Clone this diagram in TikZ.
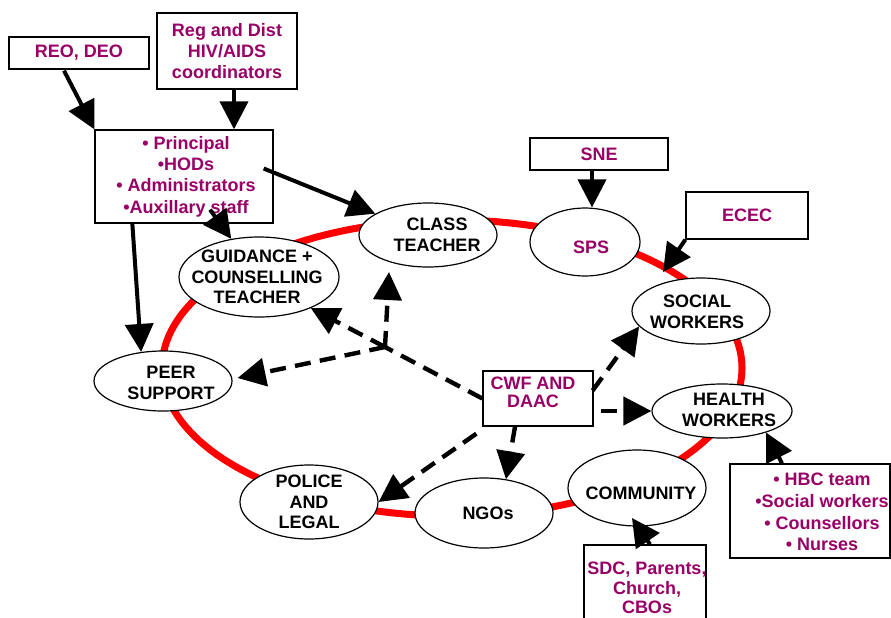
\documentclass[tikz,border=0pt]{standalone}
\usepackage{fontspec}
\setmainfont{Liberation Sans}
\usetikzlibrary{arrows.meta,calc,shapes.geometric}
\definecolor{plum}{HTML}{990066}
\begin{document}
\begin{tikzpicture}[x=0.75pt,y=-0.75pt,
  oval/.style={draw, ellipse, line width=0.9pt, fill=white, inner sep=0pt},
  box/.style={draw, rectangle, line width=1pt, fill=white, inner sep=0pt},
  txt/.style={font=\bfseries\fontsize{13.5pt}{15.5pt}\selectfont, align=center, inner sep=0pt},
  ptxt/.style={txt, text=plum},
  tip/.style={-{Triangle[length=21pt,width=21pt]}},
  link/.style={tip, line width=3pt},
  dashline/.style={line width=3.3pt, dash pattern=on 12pt off 7pt},
  dlink/.style={tip, dashline}]

\useasboundingbox (0,0) rectangle (891,617);
\clip (0,0) rectangle (891,617);

% the red support ring
\draw[red, line width=5.25pt] (452,368) ellipse [x radius=217.5pt, y radius=111pt];

% partners on the ring
\node[oval, minimum width=103.5pt, minimum height=48pt,
  label={[txt, xshift=6.75pt]center:CLASS\\TEACHER}] (class) at (428,235) {};
\node[oval, minimum width=120pt, minimum height=60pt,
  label={[txt, xshift=-1.5pt]center:GUIDANCE +\\COUNSELLING\\TEACHER}] (guid) at (259,277) {};
\node[oval, minimum width=82.5pt, minimum height=51pt,
  label={[ptxt, xshift=4.5pt, yshift=-3.75pt]center:SPS}] (sps) at (585,242) {};
\node[oval, minimum width=103.5pt, minimum height=49.5pt,
  label={[txt, xshift=-3pt, yshift=-0.75pt]center:SOCIAL\\WORKERS}] (soc) at (701,311) {};
\node[oval, minimum width=105pt, minimum height=40.5pt,
  label={[txt, xshift=5.25pt, yshift=0.75pt]center:HEALTH\\WORKERS}] (health) at (722,411) {};
\node[oval, minimum width=103.5pt, minimum height=57pt,
  label={[txt, xshift=3pt, yshift=-3.75pt]center:COMMUNITY}] (comm) at (637,488) {};
\node[oval, minimum width=103.5pt, minimum height=52.5pt,
  label={[txt, xshift=3pt]center:NGOs}] (ngo) at (484,513) {};
\node[oval, minimum width=103.5pt, minimum height=55.5pt,
  label={[txt]center:POLICE\\AND\\LEGAL}] (police) at (309,502) {};
\node[oval, minimum width=103.5pt, minimum height=45pt,
  label={[txt, xshift=6pt, yshift=-1.5pt]center:PEER\\SUPPORT}] (peer) at (163,381) {};

% boxes
\node[box, minimum width=105pt, minimum height=24pt,
  label={[ptxt]center:{REO, DEO}}] (reo) at (79,53) {};
\node[box, minimum width=105pt, minimum height=57pt,
  label={[ptxt]center:Reg and Dist\\HIV/AIDS\\coordinators}] (reg) at (227,51) {};
\node[box, minimum width=133.5pt, minimum height=69.75pt,
  label={[ptxt, font=\bfseries\fontsize{13.5pt}{16pt}\selectfont, xshift=1.5pt]center:%
  • Principal\\•HODs\\• Administrators\\•Auxillary staff}] (princ) at (184,176.5) {};
\node[box, minimum width=103.5pt, minimum height=24pt,
  label={[ptxt]center:SNE}] (sne) at (599,154) {};
\node[box, minimum width=91.5pt, minimum height=35.25pt,
  label={[ptxt]center:ECEC}] (ecec) at (747,215.5) {};
\node[box, minimum width=82.5pt, minimum height=41.25pt,
  label={[ptxt, font=\bfseries\fontsize{13.5pt}{13.3pt}\selectfont, xshift=-3.75pt, yshift=4.5pt]center:CWF AND\\DAAC}] (cwf) at (538,398.5) {};
\node[box, minimum width=120pt, minimum height=70.5pt,
  label={[ptxt, font=\bfseries\fontsize{13.5pt}{16.2pt}\selectfont, xshift=9pt, yshift=-0.75pt]center:%
  • HBC team\\•Social workers\\• Counsellors\\• Nurses}] (hbc) at (810,511) {};
\node[box, minimum width=91.5pt, minimum height=71.25pt,
  label={[ptxt, font=\bfseries\fontsize{13.5pt}{14.7pt}\selectfont, xshift=1.5pt, yshift=3.4pt]center:%
  {SDC, Parents,\\Church,\\CBOs}}] (sdc) at (645,592.5) {};

% solid links
\draw[link] ($(reo.south)+(-15,1)$) -- (princ.north west);
\draw[link] ($(reg.south)+(7,0)$) -- ($(princ.north)+(50,0)$);
\draw[link] ($(princ.east)+(-10,-8)$) -- (class);
\draw[link] ($(princ.south)+(26,-14)$) -- (guid);
\draw[link] ($(princ.south west)+(38,0)$) -- (peer.127);
\draw[link] ($(sne.south)+(-7,0)$) -- ($(sps.north)+(7,0)$);
\draw[link] (ecec.south west) -- ($(soc)+(-38,-39)$);
\draw[link] ($(hbc.north)+(-28,0)$) -- (health.-26);
\draw[link] ($(sdc.north)+(5,0)$) -- ($(comm)+(-5,30)$);

% dashed links from CWF and DAAC
\coordinate (j) at (385,347);
\draw[dashline] (cwf.west) -- (j);
\draw[dlink] (j) -- (guid.-31);
\draw[dlink] (j) -- ($(class)+(-39,37)$);
\draw[dlink] (j) -- ($(peer.east)+(5,-3)$);
\draw[dlink] ($(cwf.east)+(-1,-8)$) -- (soc.194);
\draw[dlink] ($(cwf.east)+(7,12.5)$) -- (health.west);
\draw[dlink] ($(cwf.south)+(-23,0)$) -- (ngo.57);
\draw[dlink] ($(cwf.south west)+(-6,7)$) -- (police.east);
\end{tikzpicture}
\end{document}
